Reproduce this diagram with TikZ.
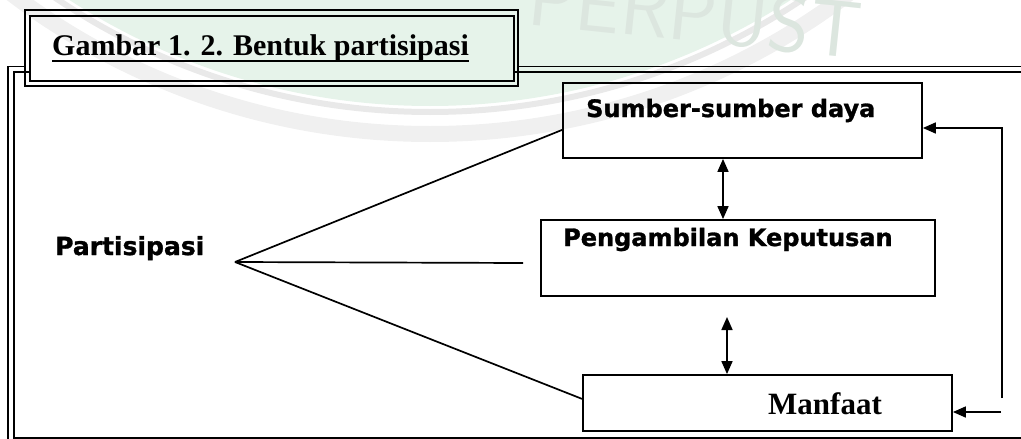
\documentclass[tikz,border=0pt]{standalone}
\usepackage{fontspec}
\setmainfont{Liberation Serif}
\newfontfamily\boxfont{DejaVu Sans}[UprightFont={DejaVu Sans Bold}, UprightFeatures={FakeBold=1.2}]
\usetikzlibrary{arrows.meta}
\definecolor{wmgreen}{HTML}{E6F3EA}
\definecolor{wmgray}{HTML}{E9E9E9}
\definecolor{wmtext}{HTML}{DCE6DF}
\begin{document}
\begin{tikzpicture}[x=1pt,y=-1pt,
  frameline/.style={line width=1.6pt},
  box/.style={draw, line width=1.8pt, rectangle, inner sep=0pt},
  conn/.style={line width=1.7pt},
  arr/.style={line width=1.7pt, -{Triangle[length=13pt,width=11pt]}},
  dbl/.style={line width=1.7pt, {Triangle[length=13pt,width=11pt]}-{Triangle[length=13pt,width=11pt]}},
  sanslabel/.style={anchor=base west, inner sep=0pt, font=\boxfont\fontsize{24}{28}\selectfont},
]
\useasboundingbox (0,0) rectangle (1021,439);

% faint library watermark in the background
\begin{scope}
  \clip (0,0) rectangle (1021,439);
  \fill[wmgreen] (430,-560) circle[radius=666];
  \draw[wmgray, line width=6pt] (430,-560) circle[radius=672];
  \draw[wmgray!70, line width=16pt] (430,-560) circle[radius=694];
  \node[text=wmtext, font=\sffamily\fontsize{80}{82}\selectfont, rotate=-6] (wm) at (695,14) {PERPUST};
\end{scope}

% outer double frame, broken where the caption box sits
\draw[frameline] (25,66.5) -- (8,66.5) -- (8,446) -- (1030,446) -- (1030,66.5) -- (518,66.5);
\draw[frameline] (30,72) -- (14,72) -- (14,438) -- (1026,438) -- (1026,72) -- (514,72);

% caption box with its own double border
\draw[frameline] (25,10) rectangle (518,86);
\draw[frameline] (30,16) rectangle (514,81);
\node[anchor=base west, inner sep=0pt, font=\bfseries\fontsize{30}{34}\selectfont] (ttl) at (52,56) {Gambar 1. 2. Bentuk partisipasi};
\draw[line width=2.2pt] ([yshift=-5pt]ttl.base west) -- ([yshift=-5pt]ttl.base east);

% the three forms of participation
\node[box, minimum width=359pt, minimum height=75pt] (sumber) at (742.5,120.5) {};
\node[box, minimum width=394pt, minimum height=76pt] (peng) at (738,258) {};
\node[box, minimum width=369pt, minimum height=56pt] (manfaat) at (767.5,403) {};

\node[sanslabel] (tsumber) at (586,117) {Sumber-sumber daya};
\node[sanslabel] (tpeng) at (563,246) {Pengambilan Keputusan};
\node[sanslabel, font=\boxfont\fontsize{25}{28}\selectfont] (tpart) at (55,255) {Partisipasi};
\node[anchor=base west, inner sep=0pt, font=\bfseries\fontsize{31}{34}\selectfont] (tmanfaat) at (768,414) {Manfaat};

% fan of lines from Partisipasi
\coordinate (apex) at (235,262);
\coordinate (midend) at (523,263);
\draw[conn] (apex) -- ([yshift=29pt]sumber.south west);
\draw[conn] (apex) -- (midend);
\draw[conn] (apex) -- ([yshift=33pt]manfaat.south west);

% two-way links between the boxes
\coordinate (ax1) at (723,190);
\draw[dbl] (sumber.south -| ax1) -- (peng.north -| ax1);
\coordinate (ax2top) at (727,317);
\draw[dbl] (ax2top) -- (manfaat.north -| ax2top);

% feedback lines on the right
\coordinate (fbbot) at (1002,398);
\coordinate (fbcorner) at (1002,128);
\draw[arr] (fbbot) -- (fbcorner) -- (fbcorner -| sumber.east);
\coordinate (fbin) at (1001,412);
\draw[arr] (fbin) -- (fbin -| manfaat.east);
\end{tikzpicture}
\end{document}
